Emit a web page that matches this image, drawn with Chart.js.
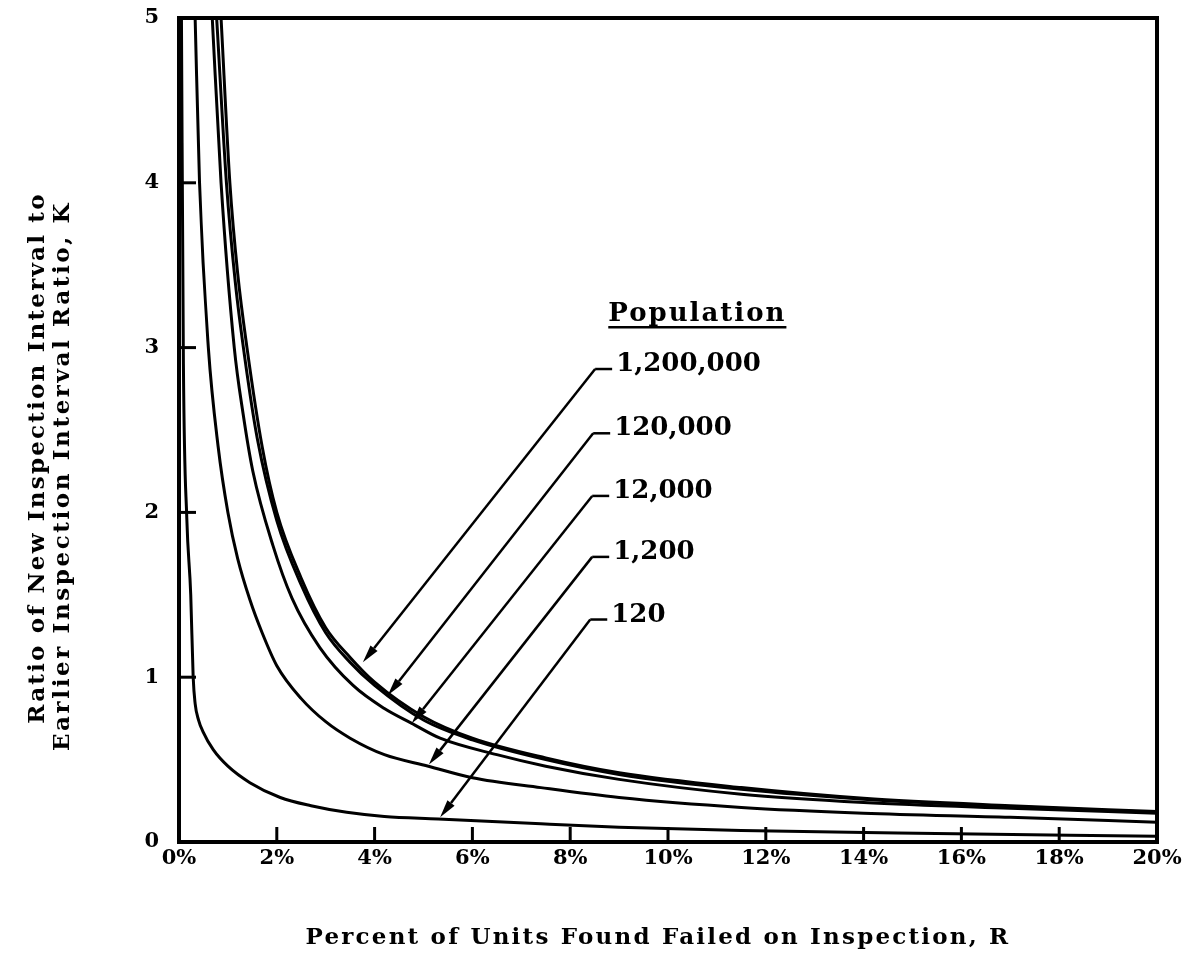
<!DOCTYPE html>
<html>
<head>
<meta charset="utf-8">
<script src="https://cdn.jsdelivr.net/npm/chart.js@4.4.1/dist/chart.umd.min.js"></script>
<style>
html, body { margin: 0; padding: 0; background: #fff; }
canvas { display: block; }
</style>
</head>
<body>
<canvas id="chart" width="1190" height="968"></canvas>
<script>
/* ===========================
   DATA
   R = percent of units failed, K = interval ratio
=========================== */

const populations = ["1,200,000", "120,000", "12,000", "1,200", "120"];

const r1200000 = [0.86, 1.04, 1.2, 1.39, 1.7, 2.0, 2.5, 3.0, 3.5, 4.0, 5.0, 6.0, 7.5, 9.0, 11.5, 14.0, 17.0, 20.0];
const k1200000 = [5.0, 4.0, 3.45, 3.0, 2.4, 2.0, 1.6, 1.3, 1.12, 0.97, 0.76, 0.63, 0.51, 0.42, 0.33, 0.265, 0.22, 0.185];

const r120000 = [0.77, 0.97, 1.15, 1.34, 1.6, 2.0, 2.5, 3.0, 3.5, 4.0, 5.0, 6.0, 7.5, 9.0, 11.5, 14.0, 17.0, 20.0];
const k120000 = [5.0, 4.0, 3.4, 2.95, 2.45, 1.95, 1.56, 1.27, 1.09, 0.95, 0.74, 0.62, 0.5, 0.41, 0.32, 0.26, 0.215, 0.18];

const r12000 = [0.68, 0.86, 1.13, 1.31, 1.51, 1.92, 2.31, 2.88, 3.56, 4.2, 4.76, 5.34, 6.5, 7.5, 9.0, 11.5, 14.0, 17.0, 20.0];
const k12000 = [5.0, 4.0, 3.0, 2.6, 2.25, 1.8, 1.48, 1.18, 0.95, 0.81, 0.72, 0.63, 0.53, 0.46, 0.38, 0.29, 0.24, 0.205, 0.175];

const r1200 = [0.33, 0.42, 0.6, 0.8, 1.0, 1.2, 1.45, 1.7, 2.0, 2.5, 3.0, 3.5, 4.2, 5.1, 6.0, 7.4, 9.0, 11.5, 14.0, 17.0, 20.0];
const k1200 = [5.0, 4.0, 3.0, 2.4, 2.0, 1.72, 1.47, 1.27, 1.07, 0.87, 0.73, 0.63, 0.53, 0.46, 0.39, 0.33, 0.27, 0.21, 0.175, 0.15, 0.12];

const r120 = [0.05, 0.09, 0.16, 0.24, 0.29, 0.33, 0.4, 0.49, 0.7, 1.0, 1.45, 2.07, 2.7, 3.43, 4.2, 5.3, 7.4, 9.0, 11.5, 14.7, 20.0];
const k120 = [5.0, 2.9, 1.96, 1.5, 1.0, 0.84, 0.74, 0.67, 0.56, 0.46, 0.36, 0.27, 0.22, 0.18, 0.155, 0.14, 0.11, 0.09, 0.07, 0.055, 0.035];

const xTicks = [0, 2, 4, 6, 8, 10, 12, 14, 16, 18, 20];
const yTicks = [0, 1, 2, 3, 4, 5];

// arrow callouts, in data units (tip on the curve, elbow near the label)
const tipR = [3.76, 4.27, 4.76, 5.11, 5.34];
const tipK = [1.09, 0.89, 0.72, 0.47, 0.15];
const elbowR = [8.51, 8.47, 8.45, 8.45, 8.41];
const elbowK = [2.87, 2.48, 2.10, 1.73, 1.35];

const seriesR = [r1200000, r120000, r12000, r1200, r120];
const seriesK = [k1200000, k120000, k12000, k1200, k120];

const FONT = '"DejaVu Serif", serif';


/* ===========================
   ANNOTATIONS PLUGIN
=========================== */

function line(ctx, x1, y1, x2, y2){
    ctx.beginPath();
    ctx.moveTo(x1, y1);
    ctx.lineTo(x2, y2);
    ctx.stroke();
}

const annotate = {

    id: "annotate",

    afterDatasetsDraw(chart){

        const ctx = chart.ctx;
        const a = chart.chartArea;
        const x = chart.scales.x;
        const y = chart.scales.y;

        ctx.save();
        ctx.strokeStyle = "#000";
        ctx.fillStyle = "#000";
        ctx.lineCap = "butt";

        // frame
        ctx.lineWidth = 4;
        ctx.strokeRect(a.left, a.top, a.right - a.left, a.bottom - a.top);

        // inward tick marks
        ctx.lineWidth = 3;
        yTicks.slice(1, -1).forEach(v => {
            const py = y.getPixelForValue(v);
            line(ctx, a.left, py, a.left + 17, py);
        });
        xTicks.slice(1, -1).forEach(v => {
            const px = x.getPixelForValue(v);
            line(ctx, px, a.bottom, px, a.bottom - 15);
        });

        // legend header
        ctx.font = "bold 26px " + FONT;
        ctx.letterSpacing = "2px";
        ctx.textAlign = "center";
        ctx.textBaseline = "alphabetic";
        const hx = x.getPixelForValue(10.6);
        const hy = y.getPixelForValue(3.16);
        ctx.fillText("Population", hx, hy);
        const hw = ctx.measureText("Population").width;
        ctx.lineWidth = 2.5;
        line(ctx, hx - hw / 2, hy + 6, hx + hw / 2, hy + 6);
        ctx.letterSpacing = "0px";

        // callouts
        populations.forEach((name, i) => {
            const ex = x.getPixelForValue(elbowR[i]);
            const ey = y.getPixelForValue(elbowK[i]);
            const tx = x.getPixelForValue(tipR[i]);
            const ty = y.getPixelForValue(tipK[i]);

            ctx.lineWidth = 2.5;
            line(ctx, ex, ey, ex + 17, ey);

            const ang = Math.atan2(ty - ey, tx - ex);
            const len = 18;
            const bx = tx - len * Math.cos(ang);
            const by = ty - len * Math.sin(ang);
            line(ctx, ex, ey, bx, by);

            ctx.beginPath();
            ctx.moveTo(tx, ty);
            ctx.lineTo(bx + 4.5 * Math.sin(ang), by - 4.5 * Math.cos(ang));
            ctx.lineTo(bx - 4.5 * Math.sin(ang), by + 4.5 * Math.cos(ang));
            ctx.closePath();
            ctx.fill();

            ctx.font = "bold 26px " + FONT;
            ctx.textAlign = "left";
            ctx.fillText(name, ex + 21, ey + 2);
        });

        // axis titles
        ctx.font = "bold 23px " + FONT;
        ctx.letterSpacing = "2.2px";
        ctx.textAlign = "center";
        ctx.textBaseline = "middle";
        ctx.fillText("Percent of Units Found Failed on Inspection, R", 658, 938);

        ctx.save();
        ctx.translate(38, 458);
        ctx.rotate(-Math.PI / 2);
        ctx.fillText("Ratio of New Inspection Interval to", 0, 0);
        ctx.restore();

        ctx.save();
        ctx.translate(63, 476);
        ctx.rotate(-Math.PI / 2);
        ctx.letterSpacing = "2.6px";
        ctx.fillText("Earlier Inspection Interval Ratio, K", 0, 0);
        ctx.restore();

        ctx.restore();
    }
};


/* ===========================
   CHART
=========================== */

const datasets = populations.map((name, i) => ({
    label: name,
    data: seriesR[i].map((r, j) => ({ x: r, y: seriesK[i][j] })),
    borderColor: "#000",
    borderWidth: 3,
    pointRadius: 0,
    fill: false,
    cubicInterpolationMode: "monotone"
}));

const chart = new Chart(document.getElementById("chart"), {

    type: "line",

    data: { datasets: datasets },

    options: {

        responsive: false,
        animation: false,

        layout: {
            padding: { left: 0, right: 33, top: 18, bottom: 0 }
        },

        plugins: {
            legend: { display: false },
            tooltip: { enabled: false }
        },

        scales: {

            x: {
                type: "linear",
                min: 0,
                max: 20,
                afterBuildTicks: s => { s.ticks = xTicks.map(v => ({ value: v })); },
                afterFit: s => { s.height = 126; },
                grid: { display: false, drawTicks: false },
                border: { display: false },
                ticks: {
                    padding: 4,
                    color: "#000",
                    font: { family: FONT, size: 21, weight: "bold" },
                    callback: v => v + "%"
                }
            },

            y: {
                min: 0,
                max: 5,
                afterBuildTicks: s => { s.ticks = yTicks.map(v => ({ value: v })); },
                afterFit: s => {
                    s.width = 179;
                    s.paddingTop = 0;
                    s.paddingBottom = 0;
                },
                grid: { display: false, drawTicks: false },
                border: { display: false },
                ticks: {
                    padding: 20,
                    color: "#000",
                    font: { family: FONT, size: 21, weight: "bold" }
                }
            }
        }
    },

    plugins: [annotate]
});
</script>
</body>
</html>
